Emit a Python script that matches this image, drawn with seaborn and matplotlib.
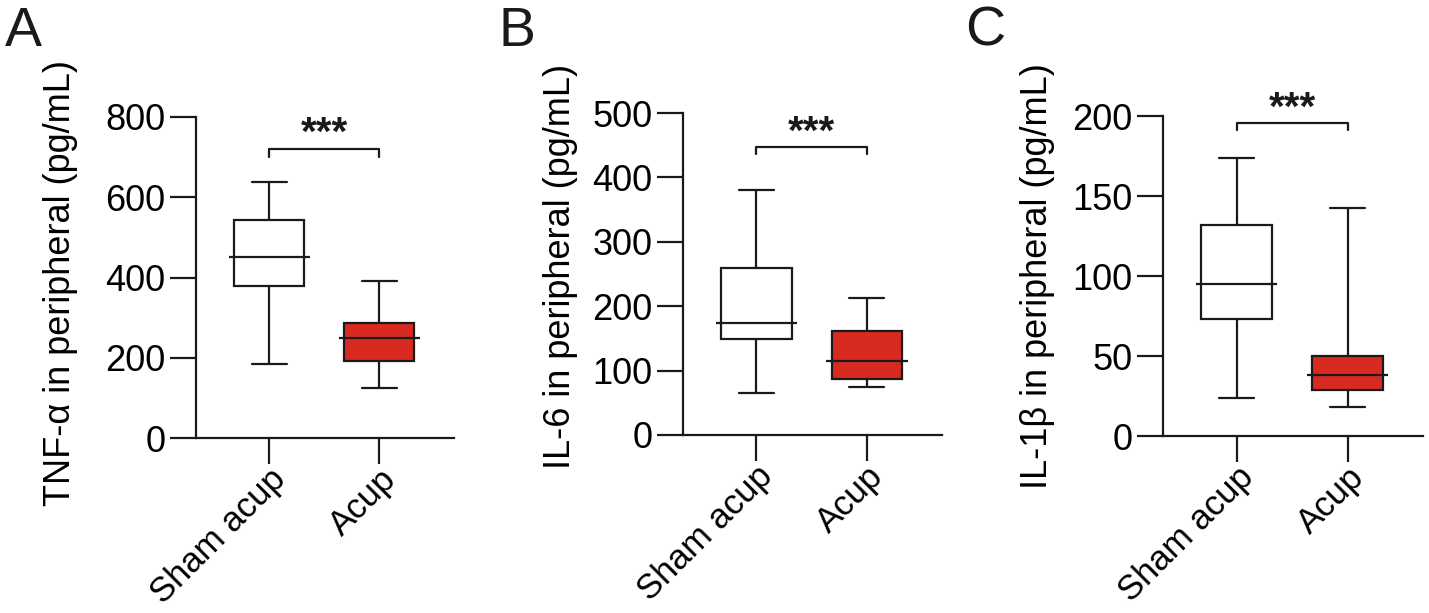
import pandas as pd
import matplotlib
matplotlib.use("Agg")
import matplotlib.pyplot as plt
import seaborn as sns

# five-number summaries: min, Q1, median, Q3, max
groups = ["Sham acup", "Acup"]
tnf_sham = [185, 379, 451, 543, 638]
tnf_acup = [125, 192, 249, 287, 392]
il6_sham = [65, 149, 174, 259, 380]
il6_acup = [74, 87, 115, 162, 213]
il1b_sham = [23.5, 73, 95, 132, 174]
il1b_acup = [18, 29, 38, 50, 142.5]

ylabels = ["TNF-α in peripheral (pg/mL)", "IL-6 in peripheral (pg/mL)",
           "IL-1β in peripheral (pg/mL)"]
letters = ["A", "B", "C"]
y_max = [800, 500, 200]
y_step = [200, 100, 50]
bracket_y = [720, 447, 195.5]
bracket_drop = [20, 11, 4.5]
stars = ["***", "***", "***"]

panels = [(tnf_sham, tnf_acup), (il6_sham, il6_acup), (il1b_sham, il1b_acup)]

sns.set_style("ticks")
plt.rcParams["font.family"] = ["Liberation Sans", "DejaVu Sans"]

red = "#d92a22"
ink = "#1a1a1a"
box_w = 0.636

fig = plt.figure(figsize=(14.29, 6.13), dpi=100)
W, H = 1429, 613
# axes in pixels: left spine x, y of zero, y of top, width
ax_px = [(196, 438, 117, 258), (683, 435, 113, 259), (1163, 436, 116, 260)]
label_pos = [(-0.457, 0.483), (-0.406, 0.525), (-0.416, 0.50)]
letter_x = [5, 498, 965]

for i, (sham, acup) in enumerate(panels):
    x0, y0, y1, w = ax_px[i]
    ax = fig.add_axes([x0 / W, (H - y0) / H, w / W, (y0 - y1) / H])
    df = pd.DataFrame({
        "group": [groups[0]] * len(sham) + [groups[1]] * len(acup),
        "value": sham + acup,
    })
    sns.boxplot(data=df, x="group", y="value", hue="group",
                palette=["white", red], saturation=1, whis=(0, 100),
                width=box_w, linewidth=1.6, linecolor=ink, legend=False, ax=ax)

    # medians poke out a little past the box, as in Prism
    for ln in ax.lines:
        xs = ln.get_xdata()
        if len(xs) == 2 and abs(abs(xs[1] - xs[0]) - box_w) < 1e-6:
            ln.set_xdata([min(xs) - 0.05, max(xs) + 0.05])

    ax.set_xlim(-0.664, 1.68)
    ax.set_ylim(0, y_max[i])
    ax.set_yticks(range(0, y_max[i] + 1, y_step[i]))
    ax.set_xlabel("")
    ax.set_ylabel(ylabels[i], fontsize=26, color="black")
    ax.yaxis.set_label_coords(*label_pos[i])
    ax.tick_params(axis="both", length=18.7, width=1.6, color=ink,
                   labelsize=26, labelcolor="black", direction="out")
    ax.tick_params(axis="x", pad=-1, labelsize=25)
    ax.set_xticks([0, 1])
    ax.set_xticklabels(groups, rotation=45, ha="right", rotation_mode="anchor")
    sns.despine(ax=ax)
    for s in ["left", "bottom"]:
        ax.spines[s].set_linewidth(1.6)
        ax.spines[s].set_color(ink)

    # significance bracket
    by, d = bracket_y[i], bracket_drop[i]
    ax.plot([0, 0, 1, 1], [by - d, by, by, by - d], color=ink, lw=1.6,
            clip_on=False)
    ax.annotate(stars[i], xy=(0.5, by), xytext=(0, -3), textcoords="offset points",
                ha="center", va="bottom", fontsize=29, fontweight="bold",
                color=ink, annotation_clip=False)

    fig.text(letter_x[i] / W, 1 - 6 / H, letters[i], fontsize=40,
             ha="left", va="top", color=ink)

fig.savefig("out.png", dpi=100)
